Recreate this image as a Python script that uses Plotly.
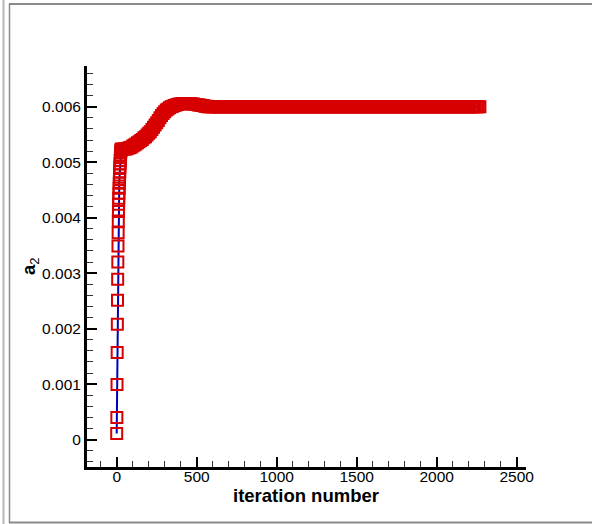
import plotly.graph_objects as go

# ---- data ----
early_iter = list(range(0, 29))
early_a2 = [0.000108, 0.000397, 0.000992, 0.00157, 0.00208, 0.00251, 0.00289, 0.00320,
            0.00349, 0.00373, 0.00394, 0.00411, 0.00424, 0.00435, 0.00444, 0.00453,
            0.00462, 0.00469, 0.00477, 0.00483, 0.00491, 0.00497, 0.00503, 0.00508,
            0.00513, 0.00517, 0.00520, 0.00522, 0.00523]

rise_iter = list(range(30, 600, 10))
rise_a2 = [0.00524, 0.00524, 0.00524, 0.00524, 0.00525, 0.00526, 0.00527, 0.00529,
           0.00531, 0.00533, 0.00535, 0.00537, 0.00539, 0.00541, 0.00544, 0.00546,
           0.00549, 0.00552, 0.00555, 0.00559, 0.00563, 0.00567, 0.00571, 0.00575,
           0.00580, 0.00584, 0.00588, 0.00591, 0.00594, 0.00596, 0.00598, 0.00600,
           0.00601, 0.00602, 0.00603, 0.00604, 0.00605, 0.00605, 0.00606, 0.00606,
           0.00606, 0.00606, 0.00606, 0.00606, 0.00605, 0.00605, 0.00604, 0.00604,
           0.00603, 0.00603, 0.00602, 0.00602, 0.00601, 0.00601, 0.00600, 0.00600,
           0.00600]

flat_iter = list(range(600, 2280, 10))
flat_a2 = [
    0.00600, 0.00600, 0.00600, 0.00600, 0.00600, 0.00600, 0.00600, 0.00600, 0.00600, 0.00600, 0.00600, 0.00600, 0.00600, 0.00600,
    0.00600, 0.00600, 0.00600, 0.00600, 0.00600, 0.00600, 0.00600, 0.00600, 0.00600, 0.00600, 0.00600, 0.00600, 0.00600, 0.00600,
    0.00600, 0.00600, 0.00600, 0.00600, 0.00600, 0.00600, 0.00600, 0.00600, 0.00600, 0.00600, 0.00600, 0.00600, 0.00600, 0.00600,
    0.00600, 0.00600, 0.00600, 0.00600, 0.00600, 0.00600, 0.00600, 0.00600, 0.00600, 0.00600, 0.00600, 0.00600, 0.00600, 0.00600,
    0.00600, 0.00600, 0.00600, 0.00600, 0.00600, 0.00600, 0.00600, 0.00600, 0.00600, 0.00600, 0.00600, 0.00600, 0.00600, 0.00600,
    0.00600, 0.00600, 0.00600, 0.00600, 0.00600, 0.00600, 0.00600, 0.00600, 0.00600, 0.00600, 0.00600, 0.00600, 0.00600, 0.00600,
    0.00600, 0.00600, 0.00600, 0.00600, 0.00600, 0.00600, 0.00600, 0.00600, 0.00600, 0.00600, 0.00600, 0.00600, 0.00600, 0.00600,
    0.00600, 0.00600, 0.00600, 0.00600, 0.00600, 0.00600, 0.00600, 0.00600, 0.00600, 0.00600, 0.00600, 0.00600, 0.00600, 0.00600,
    0.00600, 0.00600, 0.00600, 0.00600, 0.00600, 0.00600, 0.00600, 0.00600, 0.00600, 0.00600, 0.00600, 0.00600, 0.00600, 0.00600,
    0.00600, 0.00600, 0.00600, 0.00600, 0.00600, 0.00600, 0.00600, 0.00600, 0.00600, 0.00600, 0.00600, 0.00600, 0.00600, 0.00600,
    0.00600, 0.00600, 0.00600, 0.00600, 0.00600, 0.00600, 0.00600, 0.00600, 0.00600, 0.00600, 0.00600, 0.00600, 0.00600, 0.00600,
    0.00600, 0.00600, 0.00600, 0.00600, 0.00600, 0.00600, 0.00600, 0.00600, 0.00600, 0.00600, 0.00600, 0.00600, 0.00600, 0.00600,
]

x_tickvals = [0, 500, 1000, 1500, 2000, 2500]
x_ticktext = ["0", "500", "1000", "1500", "2000", "2500"]
y_tickvals = [0, 0.001, 0.002, 0.003, 0.004, 0.005, 0.006]
y_ticktext = ["0", "0.001", "0.002", "0.003", "0.004", "0.005", "0.006"]
x_title = "<b>iteration number</b>"
y_title = "<b>a</b><sub>2</sub>"

iters = early_iter + rise_iter + flat_iter
a2 = early_a2 + rise_a2 + flat_a2

# ---- layout geometry (pixels) ----
W, H = 592, 524
L, R, T, B = 87, 526, 66, 467

def pxx(x):
    return (x - L) / (R - L)

def pxy(y):
    return (B - y) / (B - T)

FONT = "Liberation Sans, Arial, Helvetica, sans-serif"

fig = go.Figure()
fig.add_trace(go.Scatter(
    x=iters, y=a2, mode="lines+markers",
    line=dict(color="rgb(0,0,190)", width=2),
    marker=dict(symbol="square-open", size=11, color="rgb(214,0,0)",
                line=dict(width=2, color="rgb(214,0,0)")),
    showlegend=False, hoverinfo="skip",
))

frame_color = "#8a8a8a"
shapes = [
    dict(type="line", xref="paper", yref="paper", x0=pxx(3.5), x1=pxx(3.5), y0=pxy(0), y1=pxy(524),
         line=dict(color="#b8b8b8", width=2)),
    dict(type="line", xref="paper", yref="paper", x0=pxx(9.5), x1=pxx(9.5), y0=pxy(3.5), y1=pxy(523),
         line=dict(color=frame_color, width=1.5)),
    dict(type="line", xref="paper", yref="paper", x0=pxx(9), x1=pxx(592), y0=pxy(4), y1=pxy(4),
         line=dict(color=frame_color, width=2)),
    dict(type="line", xref="paper", yref="paper", x0=pxx(9), x1=pxx(592), y0=pxy(522.5), y1=pxy(522.5),
         line=dict(color=frame_color, width=2)),
]

annotations = [
    dict(text=x_title, xref="paper", yref="paper", x=pxx(305.7), y=pxy(495.5),
         xanchor="center", yanchor="middle", showarrow=False, font=dict(size=18.5)),
    dict(text=y_title, xref="paper", yref="paper", x=pxx(30), y=pxy(266),
         xanchor="center", yanchor="middle", showarrow=False, textangle=-90,
         font=dict(size=18.5)),
]

fig.update_layout(
    width=W, height=H, autosize=False,
    margin=dict(l=L, r=W - R, t=T, b=H - B, pad=0),
    paper_bgcolor="white", plot_bgcolor="white",
    font=dict(family=FONT, color="black", size=15.5),
    shapes=shapes, annotations=annotations,
    xaxis=dict(
        range=[-185.6, 2558], showgrid=False, zeroline=False,
        showline=True, linecolor="black", linewidth=3,
        tickmode="array", tickvals=x_tickvals, ticktext=x_ticktext,
        ticks="inside", ticklen=10, tickwidth=2, tickcolor="black",
        minor=dict(tickmode="linear", tick0=0, dtick=100, ticks="inside",
                   ticklen=6, tickwidth=1, tickcolor="#333333"),
        tickfont=dict(size=15.5), ticklabelstandoff=-7,
        automargin=False,
    ),
    yaxis=dict(
        range=[-0.000494, 0.006734], showgrid=False, zeroline=False,
        showline=True, linecolor="black", linewidth=3,
        tickmode="array", tickvals=y_tickvals, ticktext=y_ticktext,
        ticks="inside", ticklen=10, tickwidth=2, tickcolor="black",
        minor=dict(tickmode="linear", tick0=0, dtick=0.0002, ticks="inside",
                   ticklen=6, tickwidth=1, tickcolor="#333333"),
        tickfont=dict(size=15.5),
        automargin=False,
    ),
)

fig.write_html("out.html", config={"displayModeBar": False},
               post_script="document.body.style.margin='0';document.body.style.overflow='hidden';")
